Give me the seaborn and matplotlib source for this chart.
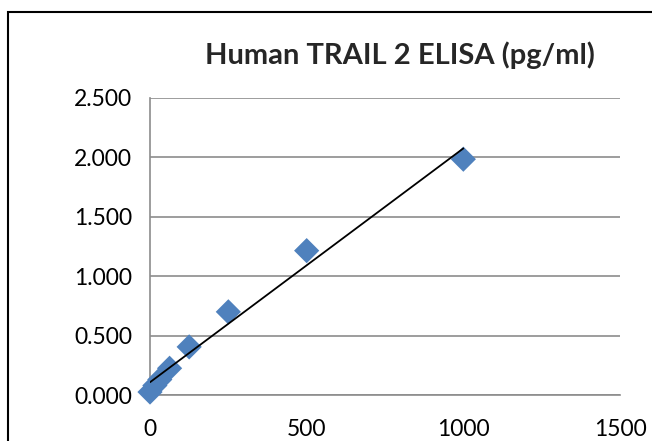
import numpy as np
import pandas as pd
import seaborn as sns
import matplotlib
matplotlib.use("Agg")
from matplotlib import pyplot as plt
from matplotlib.patches import Rectangle
from matplotlib.ticker import FuncFormatter

# standard curve values
conc = [0, 15.6, 31.25, 62.5, 125, 250, 500, 1000]
od = [0.025, 0.08, 0.13, 0.225, 0.405, 0.70, 1.215, 1.985]
title = "Human TRAIL 2 ELISA (pg/ml)"
x_ticks = [0, 500, 1000, 1500]
y_ticks = [0, 0.5, 1.0, 1.5, 2.0, 2.5]

df = pd.DataFrame({"conc": conc, "od": od})

sns.set_style("white")
plt.rcParams["font.family"] = ["Lato", "DejaVu Sans"]

fig = plt.figure(figsize=(6.52, 4.41), dpi=100)
ax = fig.add_axes([150 / 652, 1 - 395 / 441, 470 / 652, 297 / 441])

sns.regplot(data=df, x="conc", y="od", ax=ax, ci=None, truncate=True,
            marker="D",
            scatter_kws=dict(s=165, color="#4F81BD", edgecolors="none", alpha=1,
                             zorder=3, clip_on=False),
            line_kws=dict(color="black", lw=1.3, zorder=4))

ax.set_xlim(0, 1500)
ax.set_ylim(0, 2.5)
ax.set_xticks(x_ticks)
ax.set_yticks(y_ticks)
ax.yaxis.set_major_formatter(FuncFormatter(lambda v, p: f"{v:.3f}"))
ax.set_xlabel("")
ax.set_ylabel("")
ax.grid(axis="y", color="#8c8c8c", lw=1.2)
ax.grid(axis="x", visible=False)
ax.set_axisbelow(True)
for side in ["top", "right"]:
    ax.spines[side].set_visible(False)
for side in ["left", "bottom"]:
    ax.spines[side].set_color("#8c8c8c")
    ax.spines[side].set_linewidth(1.2)
ax.tick_params(axis="both", direction="out", length=8, width=1.2, color="#8c8c8c",
               labelsize=16.5, labelcolor="black")
ax.tick_params(axis="x", pad=9)
ax.tick_params(axis="y", pad=5)

fig.text(400 / 652, 1 - 55 / 441, title, ha="center", va="center",
         fontsize=21, fontweight="bold")

fig.patches.append(Rectangle((8 / 652, -0.1), 1.0, 1 - 12 / 441 + 0.1,
                             transform=fig.transFigure, fill=False,
                             edgecolor="black", lw=1.5))

fig.savefig("out.png", dpi=100)
